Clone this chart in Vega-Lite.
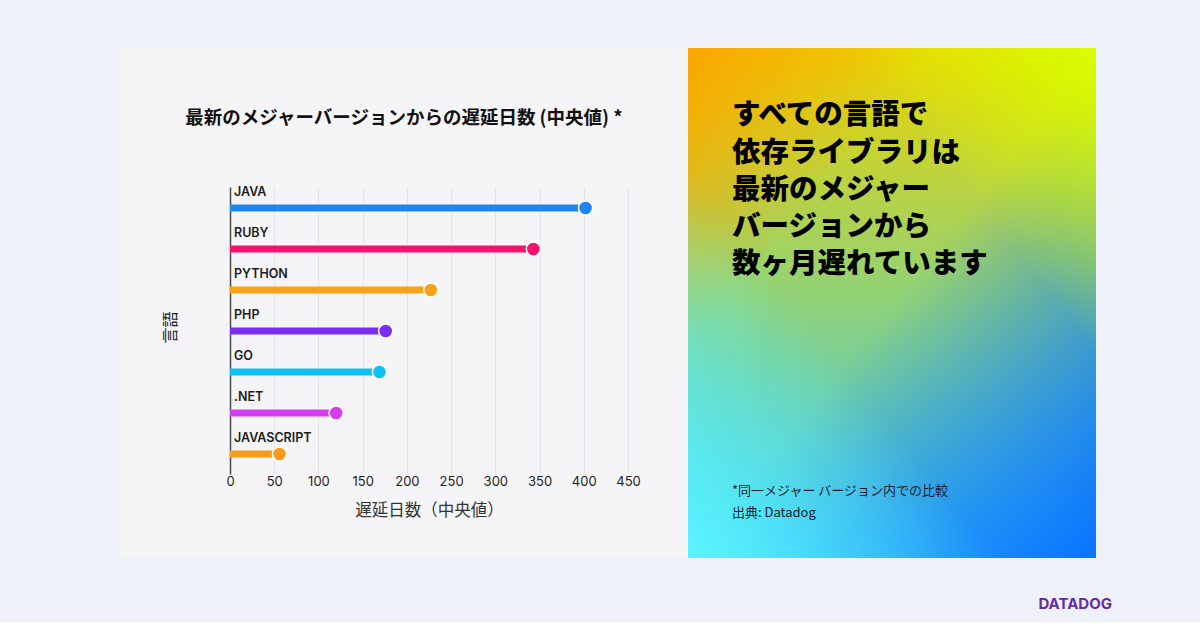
{
  "$schema": "https://vega.github.io/schema/vega-lite/v6.json",
  "background": "#eff1fa",
  "padding": {"left": 120, "top": 48, "right": 104, "bottom": 10},
  "spacing": 0,
  "title": {
    "text": "DATADOG",
    "orient": "bottom",
    "anchor": "end",
    "frame": "bounds",
    "offset": 39,
    "dx": 16,
    "fontSize": 15,
    "fontWeight": "bold",
    "font": "Inter",
    "color": "#632ca6"
  },
  "config": {
    "view": {"stroke": null},
    "concat": {"spacing": 0},
    "font": "Noto Sans CJK JP"
  },
  "hconcat": [
    {
      "width": 568,
      "height": 510,
      "view": {"fill": "#f5f5f7", "stroke": null},
      "title": {
        "text": "最新のメジャーバージョンからの遅延日数 (中央値) *",
        "anchor": "middle",
        "frame": "group",
        "offset": -79,
        "fontSize": 18.5,
        "fontWeight": "bold",
        "font": "Noto Sans CJK JP",
        "color": "#111111"
      },
      "data": {
        "values": [
          {"language": "JAVA", "days": 402},
          {"language": "RUBY", "days": 343},
          {"language": "PYTHON", "days": 227},
          {"language": "PHP", "days": 176},
          {"language": "GO", "days": 169},
          {"language": ".NET", "days": 120},
          {"language": "JAVASCRIPT", "days": 56}
        ]
      },
      "encoding": {
        "y": {
          "field": "language",
          "type": "nominal",
          "sort": null,
          "scale": {"range": [84, 371], "paddingInner": 0, "paddingOuter": 0},
          "axis": {
            "title": "言語",
            "labels": false,
            "ticks": false,
            "domain": false,
            "grid": false,
            "offset": -58,
            "titlePadding": 0,
            "titleY": 279,
            "titleAlign": "center",
            "titleFont": "Noto Sans CJK JP",
            "titleFontSize": 16,
            "titleFontWeight": "normal",
            "titleColor": "#222222"
          }
        },
        "color": {
          "field": "language",
          "type": "nominal",
          "scale": {
            "domain": ["JAVA", "RUBY", "PYTHON", "PHP", "GO", ".NET", "JAVASCRIPT"],
            "range": ["#1a88f0", "#f5136e", "#f7a21b", "#7a2ff0", "#10c0f0", "#d43ef0", "#f59c1b"]
          },
          "legend": null
        }
      },
      "layer": [
        {
          "mark": {"type": "rule", "strokeWidth": 7, "strokeCap": "butt", "yOffset": 55.5},
          "encoding": {
            "x": {
              "field": "days",
              "type": "quantitative",
              "scale": {"domain": [0, 450], "range": [110, 508], "nice": false},
              "axis": {
                "title": "遅延日数（中央値）",
                "values": [0, 50, 100, 150, 200, 250, 300, 350, 400, 450],
                "domain": false,
                "ticks": false,
                "tickSize": 0,
                "labelPadding": -83,
                "labelFlush": false,
                "labelFont": "Inter",
                "labelFontSize": 13,
                "labelColor": "#1d1d1f",
                "titleFont": "Noto Sans CJK JP",
                "titleFontSize": 16.5,
                "titleFontWeight": "normal",
                "titleColor": "#333333",
                "titleBaseline": "middle",
                "titleY": -48,
                "grid": true,
                "gridColor": {"condition": {"test": "datum.value === 0", "value": "#4a4a4a"}, "value": "#e4e4e9"},
                "gridWidth": {"condition": {"test": "datum.value === 0", "value": 1.5}, "value": 1}
              }
            },
            "x2": {"datum": 0}
          }
        },
        {
          "mark": {"type": "circle", "size": 200, "opacity": 1, "stroke": "#ffffff", "strokeWidth": 1.5, "yOffset": 55.5},
          "encoding": {
            "x": {"field": "days", "type": "quantitative"}
          }
        },
        {
          "mark": {
            "type": "text",
            "align": "left",
            "baseline": "middle",
            "dx": 4,
            "dy": -16,
            "yOffset": 55.5,
            "font": "Inter",
            "fontSize": 12.5,
            "fontWeight": 600
          },
          "encoding": {
            "x": {"datum": 0},
            "text": {"field": "language"},
            "color": {"value": "#1d1d1f"}
          }
        }
      ]
    },
    {
      "width": 408,
      "height": 510,
      "view": {"stroke": null},
      "data": {"values": [{"panel": "headline"}]},
      "title": {
        "text": ["すべての言語で", "依存ライブラリは", "最新のメジャー", "バージョンから", "数ヶ月遅れています"],
        "subtitle": ["*同一メジャー バージョン内での比較", "出典: Datadog"],
        "anchor": "start",
        "frame": "group",
        "orient": "top",
        "offset": -472,
        "dx": 44,
        "font": "Noto Sans CJK JP",
        "fontSize": 28.5,
        "lineHeight": 37.3,
        "fontWeight": 900,
        "color": "#000000",
        "subtitleFont": "Noto Sans CJK JP",
        "subtitleFontSize": 13,
        "subtitleLineHeight": 22,
        "subtitleColor": "#1b1f33",
        "subtitlePadding": 206
      },
      "layer": [
        {
          "mark": {
            "type": "rect",
            "fill": {
              "gradient": "linear",
              "x1": 0, "y1": 0, "x2": 0, "y2": 1,
              "stops": [
                {"offset": 0, "color": "#ecd400"},
                {"offset": 0.5, "color": "#8fd27a"},
                {"offset": 1, "color": "#38c4f4"}
              ]
            }
          },
          "encoding": {}
        },
        {
          "mark": {
            "type": "rect",
            "fill": {
              "gradient": "linear",
              "x1": 0, "y1": 0, "x2": 1, "y2": 1,
              "stops": [
                {"offset": 0, "color": "rgba(250,165,0,1)"},
                {"offset": 0.3, "color": "rgba(250,165,0,0)"},
                {"offset": 0.5, "color": "rgba(10,115,255,0)"},
                {"offset": 1, "color": "rgba(10,115,255,1)"}
              ]
            }
          },
          "encoding": {}
        },
        {
          "mark": {
            "type": "rect",
            "fill": {
              "gradient": "linear",
              "x1": 1, "y1": 0, "x2": 0, "y2": 1,
              "stops": [
                {"offset": 0, "color": "rgba(214,255,0,1)"},
                {"offset": 0.3, "color": "rgba(214,255,0,0)"},
                {"offset": 0.62, "color": "rgba(90,245,255,0)"},
                {"offset": 1, "color": "rgba(90,245,255,1)"}
              ]
            }
          },
          "encoding": {}
        }
      ]
    }
  ]
}
